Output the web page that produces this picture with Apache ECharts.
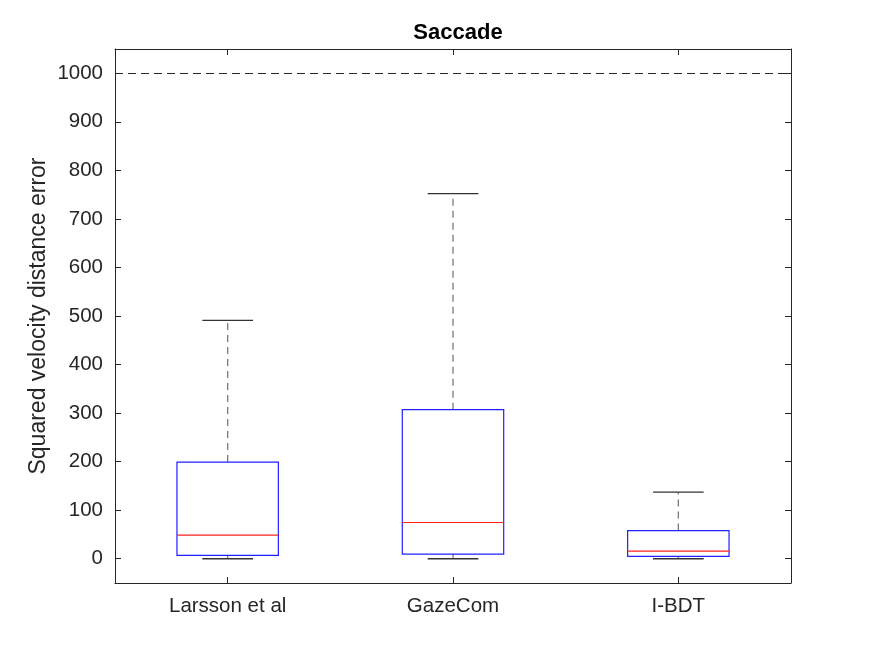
<!DOCTYPE html>
<html>
<head>
<meta charset="utf-8">
<script src="https://cdn.jsdelivr.net/npm/echarts@6/dist/echarts.min.js"></script>
<style>html,body{margin:0;padding:0;background:#fff}#c{width:875px;height:656px}</style>
</head>
<body>
<div id="c"></div>
<script>
const categories = ['Larsson et al', 'GazeCom', 'I-BDT'];
const mins    = [0, 0, 0];
const q1s     = [7, 9.5, 4.7];
const medians = [48.5, 74.6, 15.6];
const q3s     = [199, 307, 58];
const maxs    = [491, 752, 137];
const yTicks  = [0, 100, 200, 300, 400, 500, 600, 700, 800, 900, 1000];
const refLine = 1000;

const FONT = '"Liberation Sans", Arial, Helvetica, sans-serif';
const TXT = '#262626';

const data = categories.map((c, i) => [i, mins[i], q1s[i], medians[i], q3s[i], maxs[i]]);

const chart = echarts.init(document.getElementById('c'));
chart.setOption({
  animation: false,
  backgroundColor: '#fff',
  title: {
    text: 'Saccade',
    left: 453, top: 17, textAlign: 'center',
    textStyle: { fontFamily: FONT, fontSize: 22, fontWeight: 'bold', color: '#000' }
  },
  grid: { left: 115, right: 84, top: 49, bottom: 73, containLabel: false },
  xAxis: [{
    type: 'category', data: categories, boundaryGap: true, position: 'bottom',
    axisLine: { show: true, onZero: false, lineStyle: { color: TXT, width: 1 } },
    axisTick: { show: true, inside: true, alignWithLabel: true, length: 6, lineStyle: { color: TXT } },
    axisLabel: { fontFamily: FONT, fontSize: 20.5, color: TXT, margin: 13 },
    splitLine: { show: false }
  }, {
    type: 'category', data: categories, boundaryGap: true, position: 'top',
    axisLine: { show: true, onZero: false, lineStyle: { color: TXT, width: 1 } },
    axisTick: { show: true, inside: true, alignWithLabel: true, length: 6, lineStyle: { color: TXT } },
    axisLabel: { show: false },
    splitLine: { show: false }
  }],
  yAxis: [{
    type: 'value', min: -50, max: 1050, position: 'left',
    name: 'Squared velocity distance error', nameLocation: 'middle', nameGap: 65,
    nameMoveOverlap: false,
    nameTextStyle: { fontFamily: FONT, fontSize: 23, color: TXT },
    axisLine: { show: true, onZero: false, lineStyle: { color: TXT, width: 1 } },
    axisTick: { show: true, inside: true, length: 6, customValues: yTicks, lineStyle: { color: TXT } },
    axisLabel: { fontFamily: FONT, fontSize: 20.5, color: TXT, margin: 12, customValues: yTicks,
                 formatter: v => String(v) },
    splitLine: { show: false }
  }, {
    type: 'value', min: -50, max: 1050, position: 'right',
    axisLine: { show: true, onZero: false, lineStyle: { color: TXT, width: 1 } },
    axisTick: { show: true, inside: true, length: 6, customValues: yTicks, lineStyle: { color: TXT } },
    axisLabel: { show: false, customValues: yTicks },
    splitLine: { show: false }
  }],
  series: [{
    type: 'custom',
    xAxisIndex: 0, yAxisIndex: 0,
    data: data,
    renderItem: function (params, api) {
      const x = api.value(0);
      const pMin = api.coord([x, api.value(1)]);
      const pQ1 = api.coord([x, api.value(2)]);
      const pMed = api.coord([x, api.value(3)]);
      const pQ3 = api.coord([x, api.value(4)]);
      const pMax = api.coord([x, api.value(5)]);
      const band = api.size([1, 0])[0];
      const hw = band * 0.45 / 2;
      const cw = hw / 2;
      const cx = pMed[0];
      const dash = { stroke: '#7a7a7a', lineWidth: 1.3, lineDash: [7, 5] };
      const cap = { stroke: '#333', lineWidth: 1.3 };
      return {
        type: 'group',
        children: [
          { type: 'line', shape: { x1: cx, y1: pQ3[1], x2: cx, y2: pMax[1] }, style: dash },
          { type: 'line', shape: { x1: cx, y1: pQ1[1], x2: cx, y2: pMin[1] }, style: dash },
          { type: 'line', shape: { x1: cx - cw, y1: pMax[1], x2: cx + cw, y2: pMax[1] }, style: cap },
          { type: 'line', shape: { x1: cx - cw, y1: pMin[1], x2: cx + cw, y2: pMin[1] }, style: cap },
          { type: 'rect', shape: { x: cx - hw, y: pQ3[1], width: 2 * hw, height: pQ1[1] - pQ3[1] },
            style: { fill: 'none', stroke: '#2020ff', lineWidth: 1.2 } },
          { type: 'line', shape: { x1: cx - hw, y1: pMed[1], x2: cx + hw, y2: pMed[1] },
            style: { stroke: '#ff2020', lineWidth: 1.2 } }
        ]
      };
    },
    markLine: {
      silent: true, symbol: 'none', label: { show: false },
      lineStyle: { color: '#262626', type: [8, 5], width: 1.2 },
      data: [{ yAxis: refLine }]
    }
  }]
});
</script>
</body>
</html>
